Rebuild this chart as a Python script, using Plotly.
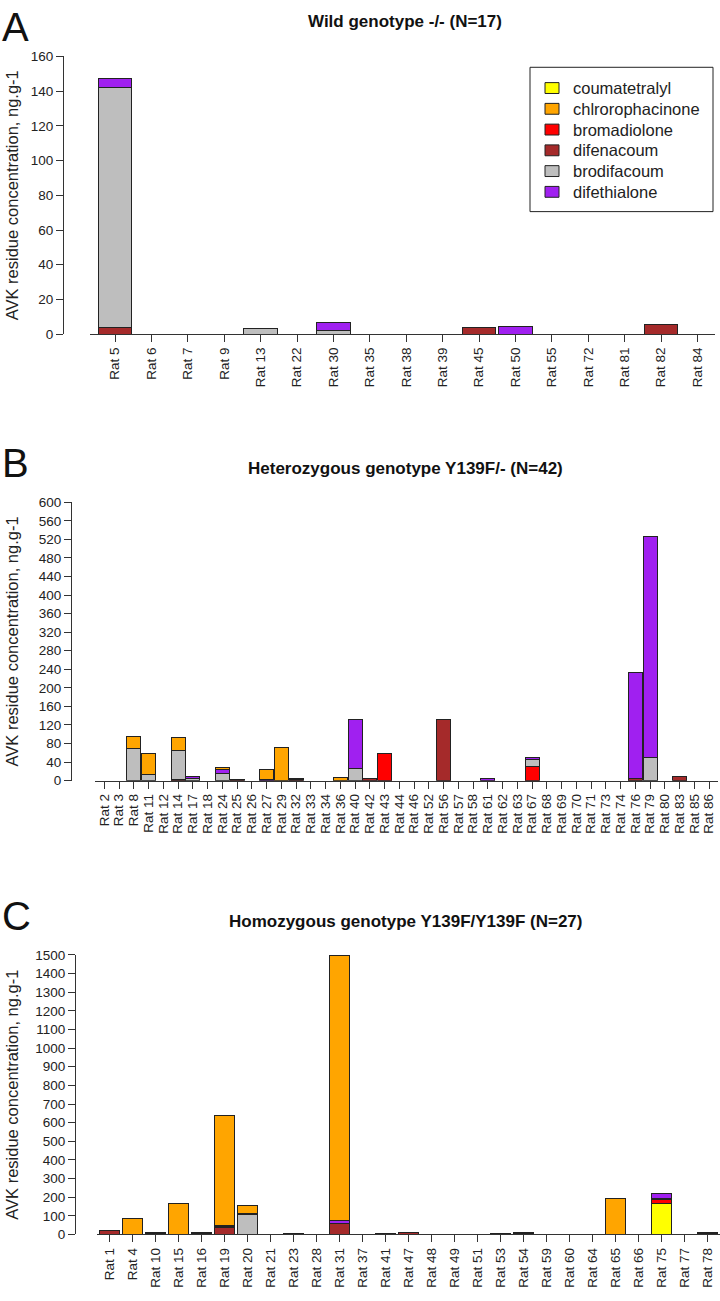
import plotly.graph_objects as go

W, H = 720, 1301
FONT = "Liberation Sans, Arial, sans-serif"

# ---------------- data ----------------
compounds = ["coumatetralyl", "chlrorophacinone", "bromadiolone",
             "difenacoum", "brodifacoum", "difethialone"]
colors = {"coumatetralyl": "#FFFF00", "chlrorophacinone": "#FFA500",
          "bromadiolone": "#FF0000", "difenacoum": "#A52A2A",
          "brodifacoum": "#BEBEBE", "difethialone": "#A020F0"}
# stacking order bottom -> top
stack_order = ["coumatetralyl", "bromadiolone", "difenacoum",
               "brodifacoum", "difethialone", "chlrorophacinone"]

# Panel A: wild genotype
rats_A = ["Rat 5", "Rat 6", "Rat 7", "Rat 9", "Rat 13", "Rat 22", "Rat 30", "Rat 35",
          "Rat 38", "Rat 39", "Rat 45", "Rat 50", "Rat 55", "Rat 72", "Rat 81", "Rat 82", "Rat 84"]
A_coumatetralyl =    [0]*17
A_chlrorophacinone = [0]*17
A_bromadiolone =     [0]*17
A_difenacoum =       [4, 0, 0, 0, 0, 0, 0, 0, 0, 0, 3.6, 0, 0, 0, 0, 5.7, 0]
A_brodifacoum =      [138, 0, 0, 0, 3.2, 0, 1.9, 0, 0, 0, 0, 0, 0, 0, 0, 0, 0]
A_difethialone =     [5.5, 0, 0, 0, 0, 0, 4.7, 0, 0, 0, 0, 4.7, 0, 0, 0, 0, 0]

# Panel B: heterozygous
rats_B = ["Rat 2", "Rat 3", "Rat 8", "Rat 11", "Rat 12", "Rat 14", "Rat 17", "Rat 18",
          "Rat 24", "Rat 25", "Rat 26", "Rat 27", "Rat 29", "Rat 32", "Rat 33", "Rat 34",
          "Rat 36", "Rat 40", "Rat 42", "Rat 43", "Rat 44", "Rat 46", "Rat 52", "Rat 56",
          "Rat 57", "Rat 58", "Rat 61", "Rat 62", "Rat 63", "Rat 67", "Rat 68", "Rat 69",
          "Rat 70", "Rat 71", "Rat 73", "Rat 74", "Rat 76", "Rat 79", "Rat 80", "Rat 83",
          "Rat 85", "Rat 86"]
B_coumatetralyl = [0]*42
#                     2  3  8   11  12 14    17   18 24    25   26 27    29    32   33 34 36 40     42 43    44 46 52 56   57 58 61 62 63 67  68 69 70 71 73 74 76     79   80 83   85 86
B_chlrorophacinone = [0, 0, 26, 45, 0, 27.5, 0,   0, 5,    0,   0, 21.5, 72.5, 3.5, 0, 0, 7, 0,     0, 0,    0, 0, 0, 0,   0, 0, 0, 0, 0, 0,  0, 0, 0, 0, 0, 0, 0,     0,   0, 0,   0, 0]
B_bromadiolone =     [0, 0, 0,  0,  0, 0,    0,   0, 0,    0,   0, 0,    0,    0,   0, 0, 0, 0,     0, 59.5, 0, 0, 0, 0,   0, 0, 0, 0, 0, 30, 0, 0, 0, 0, 0, 0, 0,     0,   0, 0,   0, 0]
B_difenacoum =       [0, 0, 0,  0,  0, 3,    0,   0, 0,    3.5, 0, 0,    0,    1.5, 0, 0, 0, 0,     5, 0,    0, 0, 0, 132, 0, 0, 0, 0, 0, 0,  0, 0, 0, 0, 0, 0, 5,     0,   0, 8.5, 0, 0]
B_brodifacoum =      [0, 0, 70, 14, 0, 62,   4.5, 0, 15.5, 0,   0, 0,    0,    0,   0, 0, 0, 27,    0, 0,    0, 0, 0, 0,   0, 0, 0, 0, 0, 15, 0, 0, 0, 0, 0, 0, 0,     51,  0, 0,   0, 0]
B_difethialone =     [0, 0, 0,  0,  0, 0,    3.5, 0, 8,    0,   0, 2,    0,    0,   0, 0, 0, 104.7, 0, 0,    0, 0, 0, 0,   0, 0, 5, 0, 0, 5,  0, 0, 0, 0, 0, 0, 228.5, 476, 0, 0,   0, 0]

# Panel C: homozygous
rats_C = ["Rat 1", "Rat 4", "Rat 10", "Rat 15", "Rat 16", "Rat 19", "Rat 20", "Rat 21",
          "Rat 23", "Rat 28", "Rat 31", "Rat 37", "Rat 41", "Rat 47", "Rat 48", "Rat 49",
          "Rat 51", "Rat 53", "Rat 54", "Rat 59", "Rat 60", "Rat 64", "Rat 65", "Rat 66",
          "Rat 75", "Rat 77", "Rat 78"]
#                     1   4   10 15   16 19   20   21 23 28 31    37 41 47  48 49 51 53 54 59 60 64 65   66 75   77 78
C_coumatetralyl =    [0,  0,  0, 0,   0, 0,   0,   0, 0, 0, 0,    0, 0, 0,  0, 0, 0, 0, 0, 0, 0, 0, 0,   0, 168, 0, 0]
C_chlrorophacinone = [0,  88, 5, 165, 4, 592, 46,  0, 0, 0, 1422, 0, 0, 0,  0, 0, 0, 0, 0, 0, 0, 0, 195, 0, 0,   0, 0]
C_bromadiolone =     [0,  0,  0, 0,   0, 0,   0,   0, 0, 0, 0,    0, 0, 0,  0, 0, 0, 0, 0, 0, 0, 0, 0,   0, 18,  0, 4]
C_difenacoum =       [19, 0,  3, 0,   0, 40,  0,   0, 3, 0, 61,   0, 2, 10, 0, 0, 0, 0, 6, 0, 0, 0, 0,   0, 6,   0, 9]
C_brodifacoum =      [0,  0,  0, 0,   5, 5,   108, 0, 0, 0, 0,    0, 2, 0,  0, 0, 0, 3, 0, 0, 0, 0, 0,   0, 0,   0, 0]
C_difethialone =     [0,  0,  0, 0,   0, 3,   2,   0, 4, 0, 12,   0, 0, 0,  0, 0, 0, 0, 7, 0, 0, 0, 0,   0, 26,  0, 0]

panels = [
    dict(key="A", rats=rats_A,
         vals={"coumatetralyl": A_coumatetralyl, "chlrorophacinone": A_chlrorophacinone,
               "bromadiolone": A_bromadiolone, "difenacoum": A_difenacoum,
               "brodifacoum": A_brodifacoum, "difethialone": A_difethialone},
         title="Wild genotype -/- (N=17)", ymax=160, dtick=20,
         top=50, bot=331, yax=63, p0=115, d=36.4, L=90, R=715, bw=0.92,
         title_y=15, letter_y=20),
    dict(key="B", rats=rats_B,
         vals={"coumatetralyl": B_coumatetralyl, "chlrorophacinone": B_chlrorophacinone,
               "bromadiolone": B_bromadiolone, "difenacoum": B_difenacoum,
               "brodifacoum": B_brodifacoum, "difethialone": B_difethialone},
         title="Heterozygous genotype Y139F/- (N=42)", ymax=600, dtick=40,
         top=501, bot=782.7, yax=71, p0=104.3, d=14.75, L=95, R=718, bw=0.95,
         title_y=467, letter_y=461),
    dict(key="C", rats=rats_C,
         vals={"coumatetralyl": C_coumatetralyl, "chlrorophacinone": C_chlrorophacinone,
               "bromadiolone": C_bromadiolone, "difenacoum": C_difenacoum,
               "brodifacoum": C_brodifacoum, "difethialone": C_difethialone},
         title="Homozygous genotype Y139F/Y139F (N=27)", ymax=1500, dtick=100,
         top=959, bot=1241.8, yax=75, p0=109.5, d=23.0, L=97, R=720, bw=0.88,
         title_y=925, letter_y=920),
]

fig = go.Figure()
layout = dict(width=W, height=H, margin=dict(l=0, r=0, t=0, b=0),
              autosize=False, barmode="stack", plot_bgcolor="white",
              paper_bgcolor="white", font=dict(family=FONT, color="#222222"),
              annotations=[], shapes=[], showlegend=False)

for i, p in enumerate(panels, start=1):
    xa = "x" if i == 1 else f"x{i}"
    ya = "y" if i == 1 else f"y{i}"
    for c in stack_order:
        yv = [v if v else None for v in p["vals"][c]]
        fig.add_trace(go.Bar(
            x=p["rats"], y=yv, name=c, xaxis=xa, yaxis=ya,
            marker=dict(color=colors[c], line=dict(color="#222222", width=1)),
            width=p["bw"], showlegend=False,
        ))
    xkey = "xaxis" if i == 1 else f"xaxis{i}"
    ykey = "yaxis" if i == 1 else f"yaxis{i}"
    layout[xkey] = dict(
        domain=[p["L"] / W, p["R"] / W],
        range=[(p["L"] - p["p0"]) / p["d"], (p["R"] - p["p0"]) / p["d"]],
        type="category", categoryorder="array", categoryarray=p["rats"],
        tickmode="array", tickvals=p["rats"], ticktext=p["rats"],
        anchor=ya, tickangle=-90, ticks="outside", ticklen=7, tickcolor="#333333",
        showline=True, linecolor="#333333", linewidth=1, showgrid=False,
        zeroline=False, tickfont=dict(size=13.5, family=FONT, color="#222222"),
    )
    layout[ykey] = dict(
        domain=[1 - p["bot"] / H, 1 - p["top"] / H],
        range=[0, p["ymax"]], dtick=p["dtick"], tick0=0,
        anchor="free", position=p["yax"] / W,
        ticks="outside", ticklen=7, tickcolor="#333333",
        showline=True, linecolor="#333333", linewidth=1, showgrid=False,
        zeroline=False, tickfont=dict(size=13.5, family=FONT, color="#222222"),
    )
    layout["annotations"].append(dict(
        text="<b>" + p["title"] + "</b>", xref="paper", yref="paper",
        x=405 / W, y=1 - p["title_y"] / H, xanchor="center", yanchor="middle",
        showarrow=False, font=dict(size=17, family=FONT, color="#111111")))
    layout["annotations"].append(dict(
        text=p["key"], xref="paper", yref="paper",
        x=0, y=1 - p["letter_y"] / H, xanchor="left", yanchor="middle",
        showarrow=False, font=dict(size=40, family=FONT, color="#111111")))
    layout["annotations"].append(dict(
        text="AVK residue concentration, ng.g-1", xref="paper", yref="paper",
        x=12 / W, y=1 - (p["top"] + p["bot"]) / 2 / H, xanchor="center",
        yanchor="middle", textangle=-90, showarrow=False,
        font=dict(size=16.5, family=FONT, color="#222222")))

# legend (panel A)
leg_left, leg_top, leg_right, leg_bot = 530, 61, 713, 207
layout["shapes"].append(dict(type="rect", xref="paper", yref="paper",
                             x0=leg_left / W, x1=leg_right / W,
                             y0=1 - leg_bot / H, y1=1 - leg_top / H,
                             line=dict(color="#222222", width=1), fillcolor="white"))
for k, c in enumerate(compounds):
    yc = 82 + 21 * k
    layout["shapes"].append(dict(type="rect", xref="paper", yref="paper",
                                 x0=545 / W, x1=559 / W,
                                 y0=1 - (yc + 5.5) / H, y1=1 - (yc - 5.5) / H,
                                 line=dict(color="#222222", width=1),
                                 fillcolor=colors[c]))
    layout["annotations"].append(dict(
        text=c, xref="paper", yref="paper", x=571 / W, y=1 - yc / H,
        xanchor="left", yanchor="middle", showarrow=False,
        font=dict(size=16.5, family=FONT, color="#222222")))

fig.update_layout(**layout)
fig.write_html("out.html", config={"displayModeBar": False},
               post_script="document.body.style.margin='0px';document.documentElement.style.overflow='hidden';")
